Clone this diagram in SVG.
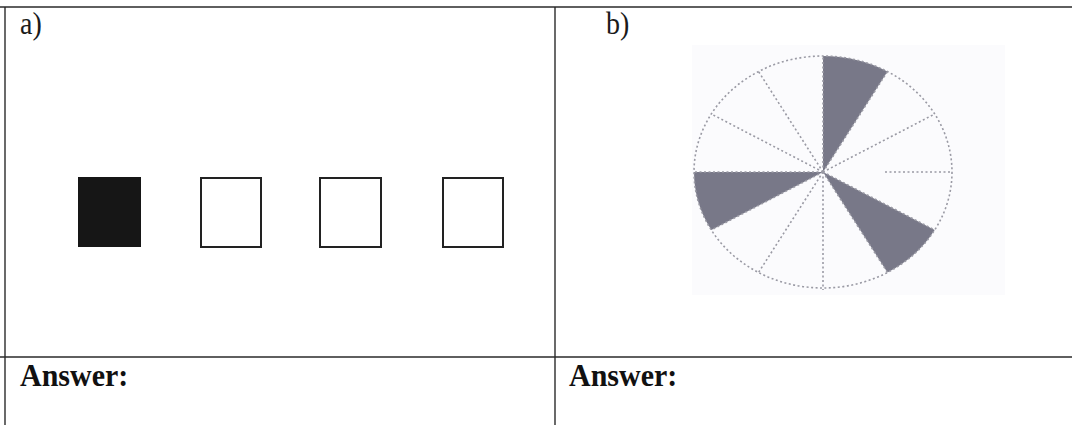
<svg xmlns="http://www.w3.org/2000/svg" width="1072" height="425" viewBox="0 0 1072 425">
<style>
.rule{stroke:#2a2a2a;stroke-width:1.4;fill:none}
.lbl{font-family:"Liberation Serif","Times New Roman",serif;font-size:28px;fill:#1a1a1a}
.ans{font-family:"Liberation Serif","Times New Roman",serif;font-size:30px;font-weight:bold;fill:#111}
.box{fill:#fff;stroke:#222;stroke-width:2}
.spoke{stroke:#9a9aa4;stroke-width:1.6;stroke-dasharray:2 2.5;fill:none}
.shade{fill:#787888}
</style>
<rect width="1072" height="425" fill="#fff"/>
<g id="table">
<line class="rule" x1="0" y1="7" x2="1072" y2="7"/>
<line class="rule" x1="5" y1="7" x2="5" y2="425"/>
<line class="rule" x1="555" y1="7" x2="555" y2="425"/>
<line class="rule" x1="0" y1="357" x2="1072" y2="357"/>
</g>
<g id="label-a"><text class="lbl" transform="translate(20,34) scale(1,1.15)">a)</text></g>
<g id="label-b"><text class="lbl" transform="translate(606,34) scale(1,1.15)">b)</text></g>
<g id="squares">
<rect id="sq1" x="78" y="177" width="63" height="70" fill="#161616"/>
<rect id="sq2" class="box" x="201" y="178" width="60" height="69"/>
<rect id="sq3" class="box" x="320" y="178" width="61" height="69"/>
<rect id="sq4" class="box" x="443" y="178" width="60" height="69"/>
</g>
<g id="pie">
<rect x="692" y="45" width="313" height="250" fill="#fbfbfd"/>
<path class="shade" d="M823,172 L823,56 A129,116 0 0,1 887.5,71.5 Z"/>
<path class="shade" d="M823,172 L934.7,230 A129,116 0 0,1 887.5,272.5 Z"/>
<path class="shade" d="M823,172 L711.3,230 A129,116 0 0,1 694,172 Z"/>
<ellipse class="spoke" cx="823" cy="172" rx="129" ry="116"/>
<path class="spoke" d="M823,172 L887.5,71.5 M823,172 L934.7,114 M885,172 L952,172 M823,172 L934.7,230 M823,172 L887.5,272.5 M823,172 L823,290 M823,172 L758.5,272.5 M823,172 L711.3,230 M823,172 L694,172 M823,172 L711.3,114 M823,172 L758.5,71.5 M823,172 L823,56"/>
</g>
<g id="answer-a"><text class="ans" transform="translate(20,386) scale(1,1.05)">Answer:</text></g>
<g id="answer-b"><text class="ans" transform="translate(569,386) scale(1,1.05)">Answer:</text></g>
</svg>
